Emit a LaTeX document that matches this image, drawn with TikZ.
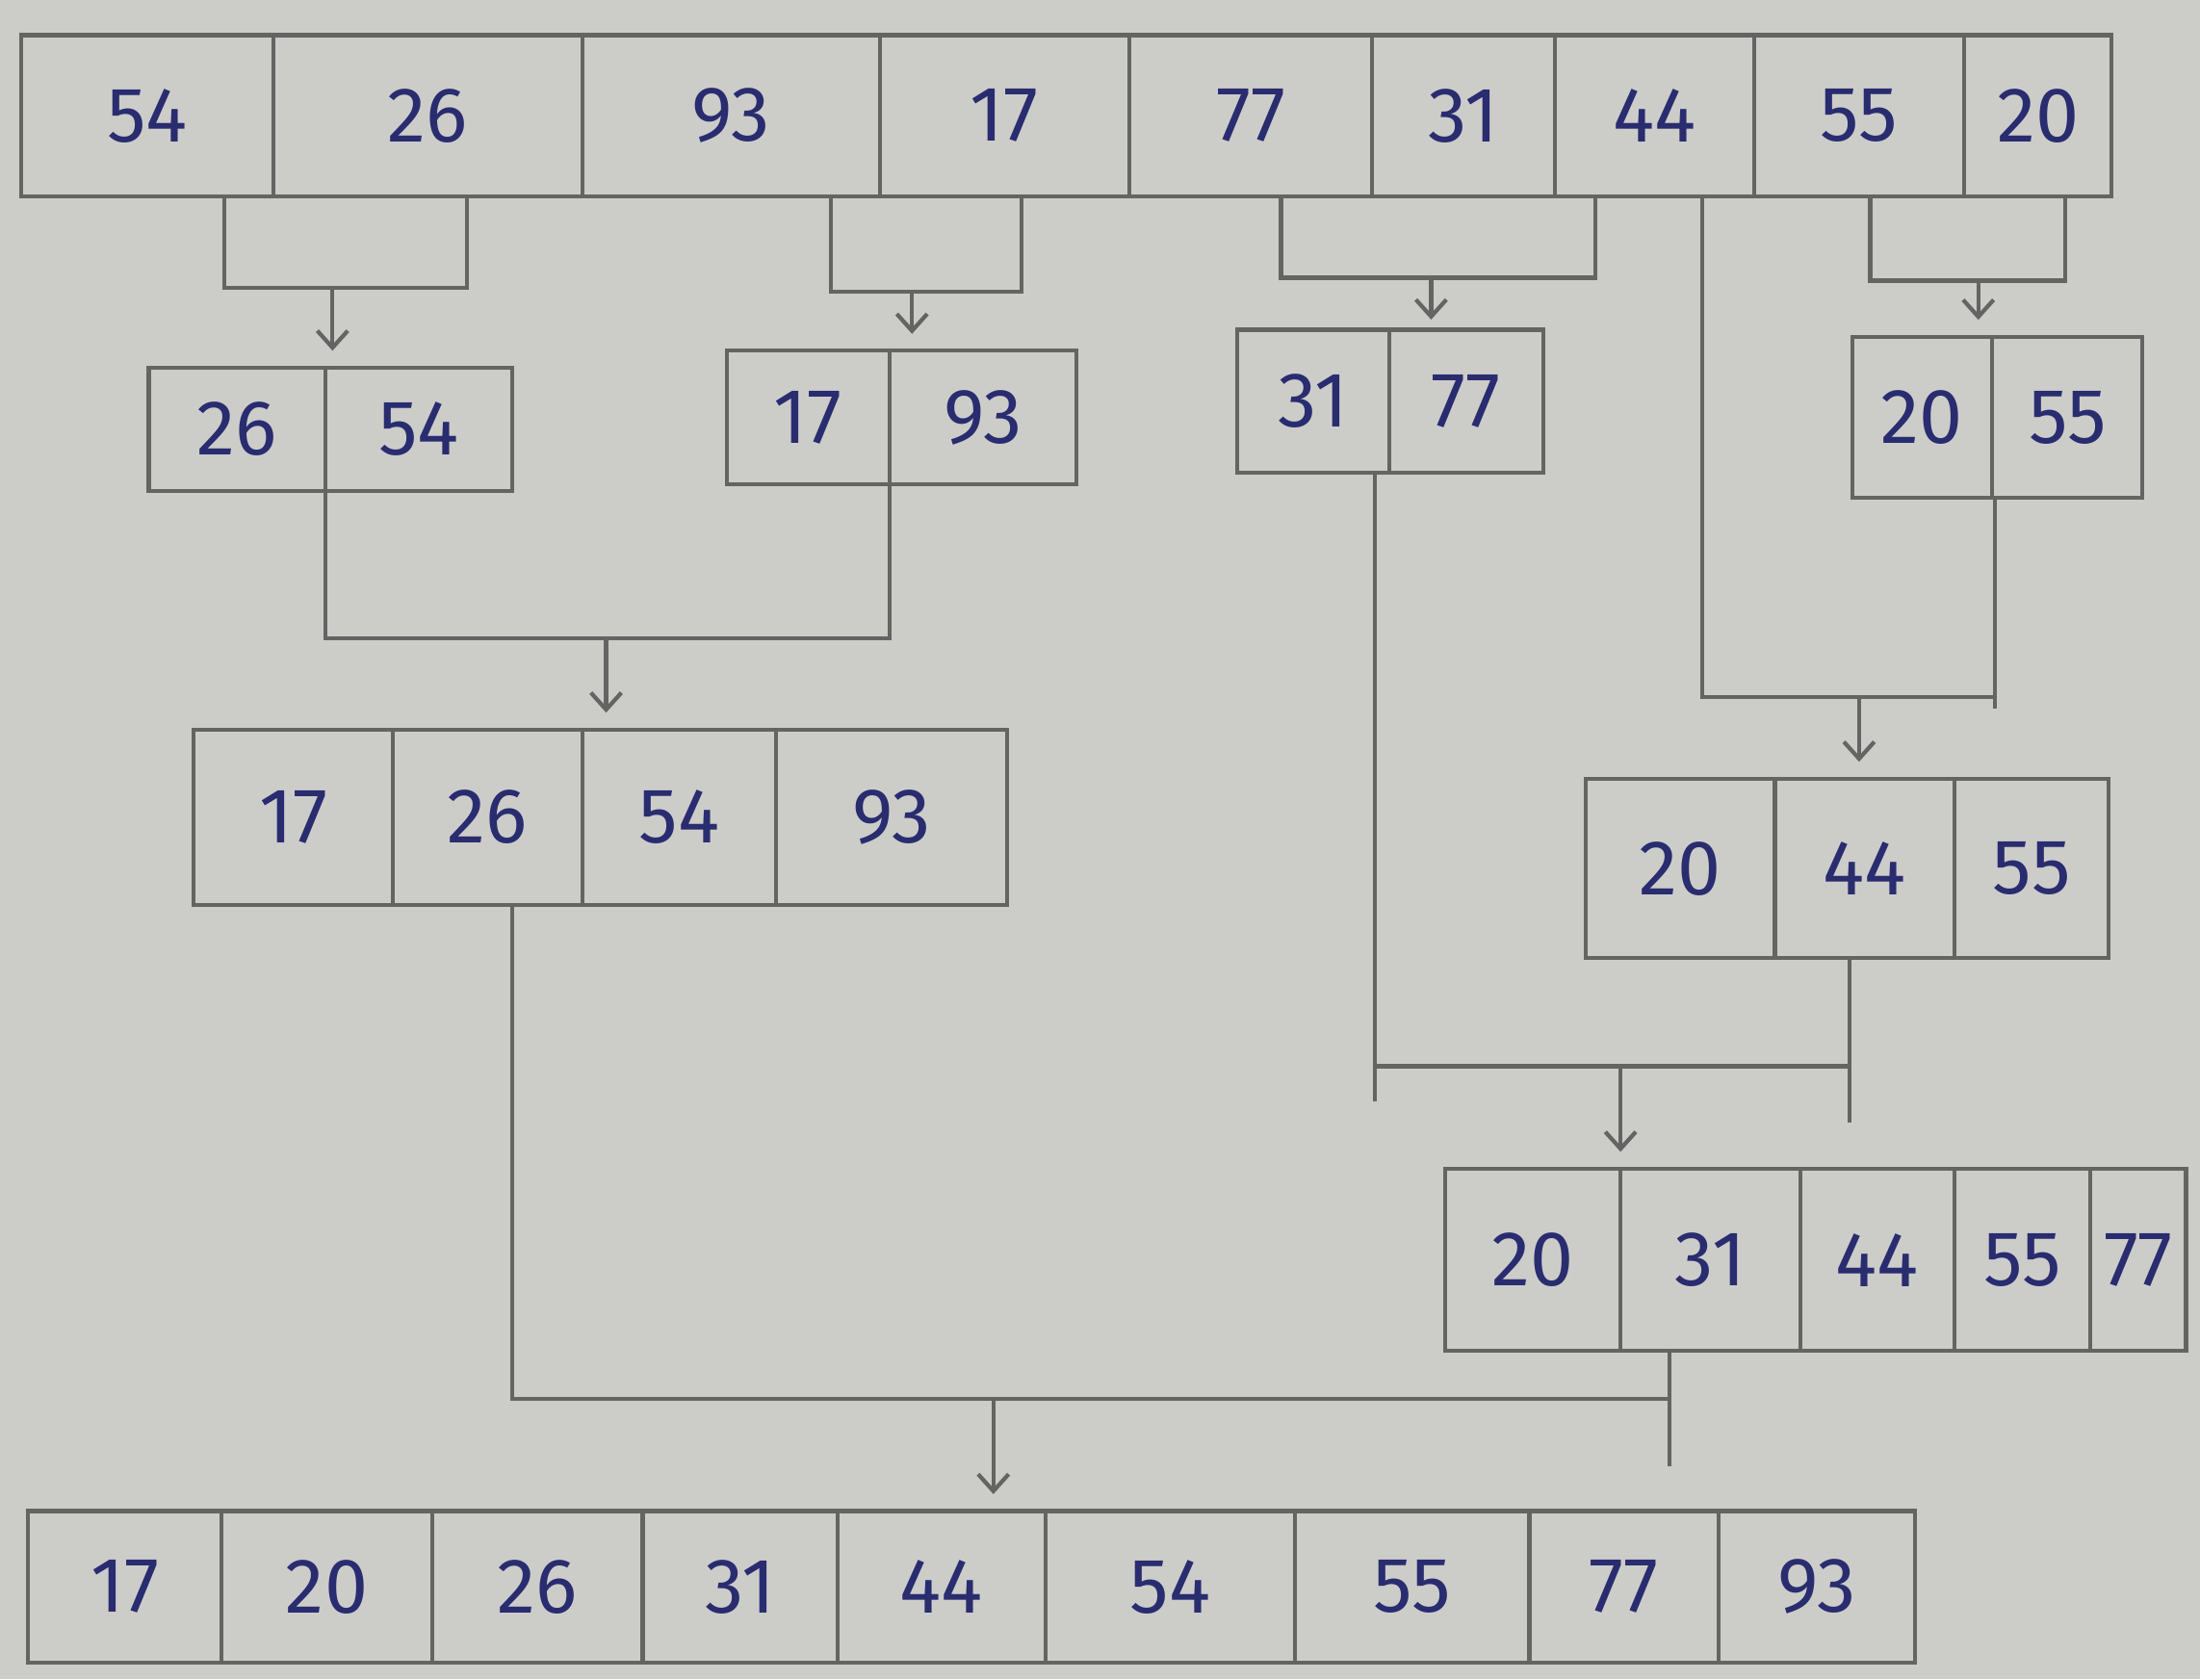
\documentclass[tikz,border=0pt]{standalone}
\usepackage{fontspec}
\setmainfont{Fira Sans}
\usetikzlibrary{arrows.meta,positioning}

\definecolor{paper}{RGB}{204,205,201}
\definecolor{pencil}{RGB}{100,101,99}
\definecolor{ink}{RGB}{42,44,112}
\newcommand\unitpx{0.014573cm}

\begin{document}
\begin{tikzpicture}[
    x=\unitpx, y=-\unitpx,
    cell/.style 2 args={draw=pencil,line width=1.2pt,outer sep=0pt,inner sep=0pt,
        minimum width=#1*\unitpx,minimum height=#2*\unitpx,
        text=ink,font=\fontsize{23}{27}\selectfont},
    link/.style={draw=pencil,line width=1.2pt},
    arr/.style={link,-{Straight Barb[length=5pt,width=9pt]},shorten >=5pt}
]

\useasboundingbox (0,0) rectangle (1568,1197);
\fill[paper] (0,0) rectangle (1568,1197);

% unsorted list
\node[cell={180}{115},anchor=north west] (top1) at (15,25) {54};
\node[cell={220}{115},right=0pt of top1] (top2) {26};
\node[cell={212}{115},right=0pt of top2] (top3) {93};
\node[cell={178}{115},right=0pt of top3] (top4) {17};
\node[cell={173}{115},right=0pt of top4] (top5) {77};
\node[cell={130}{115},right=0pt of top5] (top6) {31};
\node[cell={142}{115},right=0pt of top6] (top7) {44};
\node[cell={150}{115},right=0pt of top7] (top8) {55};
\node[cell={105}{115},right=0pt of top8] (top9) {20};

% pairs
\node[cell={126}{88},anchor=north west] (m1a) at (106,262) {26};
\node[cell={133}{88},right=0pt of m1a] (m1b) {54};

\node[cell={116}{95},anchor=north west] (m2a) at (518,250) {17};
\node[cell={133}{95},right=0pt of m2a] (m2b) {93};

\node[cell={108}{102},anchor=north west] (m3a) at (882,235) {31};
\node[cell={110}{102},right=0pt of m3a] (m3b) {77};

\node[cell={100}{115},anchor=north west] (m4a) at (1320,240) {20};
\node[cell={107}{115},right=0pt of m4a] (m4b) {55};

% quarters
\node[cell={142}{125},anchor=north west] (q1a) at (138,520) {17};
\node[cell={135}{125},right=0pt of q1a] (q1b) {26};
\node[cell={138}{125},right=0pt of q1b] (q1c) {54};
\node[cell={165}{125},right=0pt of q1c] (q1d) {93};

\node[cell={135}{128},anchor=north west] (q2a) at (1130,555) {20};
\node[cell={128}{128},right=0pt of q2a] (q2b) {44};
\node[cell={110}{128},right=0pt of q2b] (q2c) {55};

% right half
\node[cell={125}{130},anchor=north west] (h1) at (1030,833) {20};
\node[cell={128}{130},right=0pt of h1] (h2) {31};
\node[cell={110}{130},right=0pt of h2] (h3) {44};
\node[cell={97}{130},right=0pt of h3] (h4) {55};
\node[cell={68}{130},right=0pt of h4] (h5) {77};

% sorted list
\node[cell={138}{108},anchor=north west] (fin1) at (20,1077) {17};
\node[cell={150}{108},right=0pt of fin1] (fin2) {20};
\node[cell={150}{108},right=0pt of fin2] (fin3) {26};
\node[cell={139}{108},right=0pt of fin3] (fin4) {31};
\node[cell={148}{108},right=0pt of fin4] (fin5) {44};
\node[cell={178}{108},right=0pt of fin5] (fin6) {54};
\node[cell={167}{108},right=0pt of fin6] (fin7) {55};
\node[cell={135}{108},right=0pt of fin7] (fin8) {77};
\node[cell={140}{108},right=0pt of fin8] (fin9) {93};

% splitting brackets
\coordinate (j1) at (237,205);
\draw[link] (160,0 |- top1.south) |- (j1) -| (333,0 |- top2.south);
\draw[arr] (j1) -- (j1 |- m1a.north);

\coordinate (j2) at (650,208);
\draw[link] (592,0 |- top3.south) |- (j2) -| (728,0 |- top4.south);
\draw[arr] (j2) -- (j2 |- m2a.north);

\coordinate (j3) at (1020,198);
\draw[link] (913,0 |- top5.south) |- (j3) -| (1137,0 |- top7.south);
\draw[arr] (j3) -- ([yshift=-2pt]j3 |- m3a.north);

\coordinate (j4) at (1410,200);
\draw[link] (1333,0 |- top8.south) |- (j4) -| (1472,0 |- top9.south);
\draw[arr] (j4) -- (j4 |- m4a.north);

% 44 joins 20 55
\coordinate (j5) at (1325,497);
\draw[link] (1213,0 |- top7.south) |- (j5) -- (1422,497);
\draw[link] (1422,0 |- m4b.south) -- (1422,505);
\draw[arr] (j5) -- (j5 |- q2a.north);

% merging brackets
\coordinate (j6) at (432,455);
\draw[link] (m1a.south east) |- (j6) -| (m2a.south east);
\draw[arr] (j6) -- (j6 |- q1a.north);

\coordinate (j7) at (1155,760);
\draw[link] (980,0 |- m3a.south) -- (980,785);
\draw[link] (1318,0 |- q2b.south) -- (1318,800);
\draw[link] (980,760) -- (1318,760);
\draw[arr] (j7) -- (j7 |- h1.north);

\coordinate (j8) at (708,997);
\draw[link] (365,0 |- q1b.south) |- (j8) -- (1190,997);
\draw[link] (1190,0 |- h2.south) -- (1190,1045);
\draw[arr] (j8) -- (j8 |- fin5.north);

\end{tikzpicture}
\end{document}
